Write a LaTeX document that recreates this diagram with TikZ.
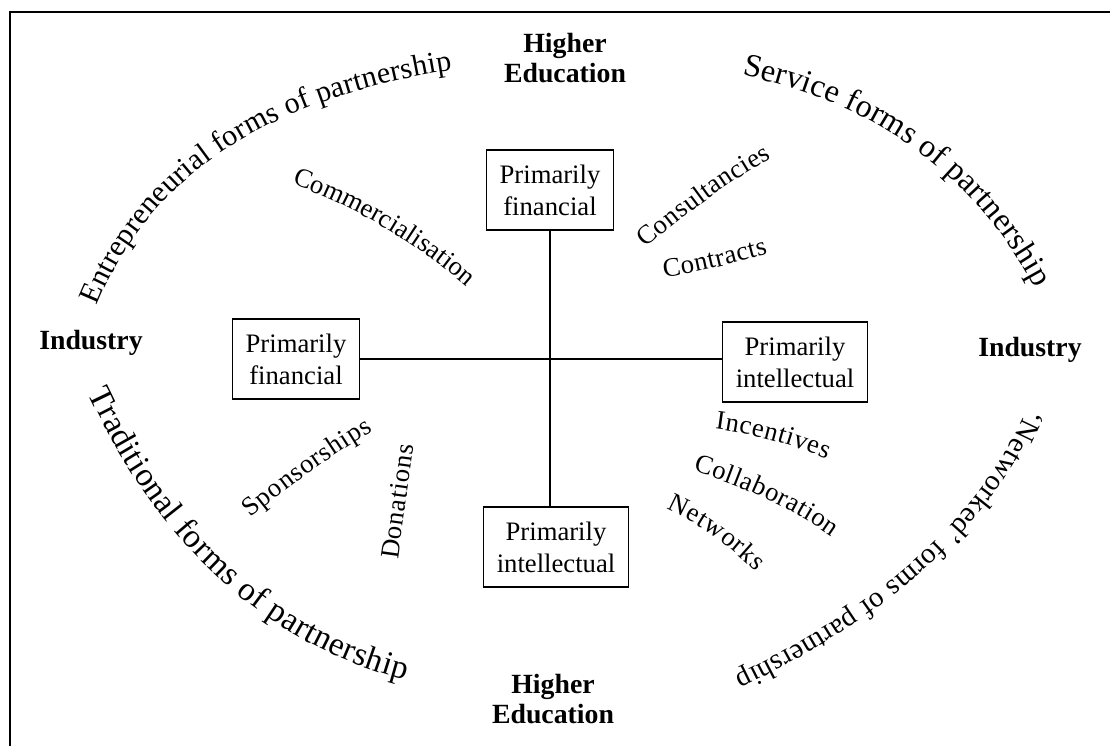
\documentclass[tikz,border=0pt]{standalone}
\usepackage{fontspec}
\setmainfont{Liberation Serif}
\usetikzlibrary{decorations.text}
\newcommand{\itemfont}{\fontsize{12}{14}\selectfont}
\tikzset{
  partbox/.style ={draw, line width=0.7pt, align=center, inner xsep=6pt,
                   minimum height=36pt, font=\fontsize{12}{14.4}\selectfont},
  sector/.style  ={align=center, inner sep=1pt,
                   font=\fontsize{12.5}{13.5}\selectfont\bfseries},
  axis/.style    ={draw, line width=0.7pt},
  formtext/.style 2 args={decorate, decoration={text along path,
                   text align={fit to path},
                   text={|\fontsize{#1}{#1}\selectfont|#2}}},
  itemtext/.style={decorate, decoration={text along path,
                   text align={fit to path}, text={|\itemfont|#1}}}
}

\begin{document}
\begin{tikzpicture}[x=0.45pt, y=-0.45pt]
\useasboundingbox (0,0) rectangle (1110,746);
\draw[line width=0.9pt] (1110,12) -- (9.5,12) -- (9.5,746);

\node[sector] (heup)     at (565,58)  {Higher\\Education};
\node[sector] (hedown)   at (553,699) {Higher\\Education};
\node[sector] (indleft)  at (91,343)  {Industry};
\node[sector] (indright) at (1030,350) {Industry};

\node[partbox] (finup)    at (550,190) {Primarily\\financial};
\node[partbox] (finleft)  at (296,359) {Primarily\\financial};
\node[partbox] (intright) at (795,362) {Primarily\\intellectual};
\node[partbox] (intdown)  at (556,547) {Primarily\\intellectual};

\draw[axis] (finup.south) -- (finup.south |- intdown.north);
\draw[axis] (finleft.east) -- (finleft.east -| intright.west);

% the four forms sit on arcs round the cross, baseline on the path
\path[formtext={13.5}{Entrepreneurial forms of partnership}]
  (97,306) .. controls (149,177) and (267,99) .. (452,70);
\path[formtext={14.5}{Service forms of partnership}]
  (742,75) .. controls (877,104) and (974,175) .. (1035,288);
\path[formtext={15}{Traditional forms of partnership}]
  (88,393) .. controls (160,547) and (266,643) .. (405,680);
\path[formtext={13}{`Networked' forms of partnership}]
  (1027,408) .. controls (984,513) and (886,603) .. (735,676);

\path[itemtext={Commercialisation}]
  (292,184) .. controls (353,206) and (412,240) .. (467,287);
\path[itemtext={Consultancies}]
  (646,248) .. controls (693,208) and (735,178) .. (772,158);
\path[itemtext={Contracts}]
  (664,277) .. controls (699,273) and (733,263) .. (768,254);
\path[itemtext={Sponsorships}]
  (251,518) .. controls (289,486) and (330,457) .. (373,431);
\path[itemtext={Donations}] (398,560) -- (414,445);
\path[itemtext={Incentives}]
  (715,429) .. controls (753,434) and (790,444) .. (827,459);
\path[itemtext={Collaboration}]
  (693,471) .. controls (748,488) and (794,510) .. (832,537);
\path[itemtext={Networks}]
  (666,509) .. controls (699,524) and (729,545) .. (756,572);
\end{tikzpicture}
\end{document}
